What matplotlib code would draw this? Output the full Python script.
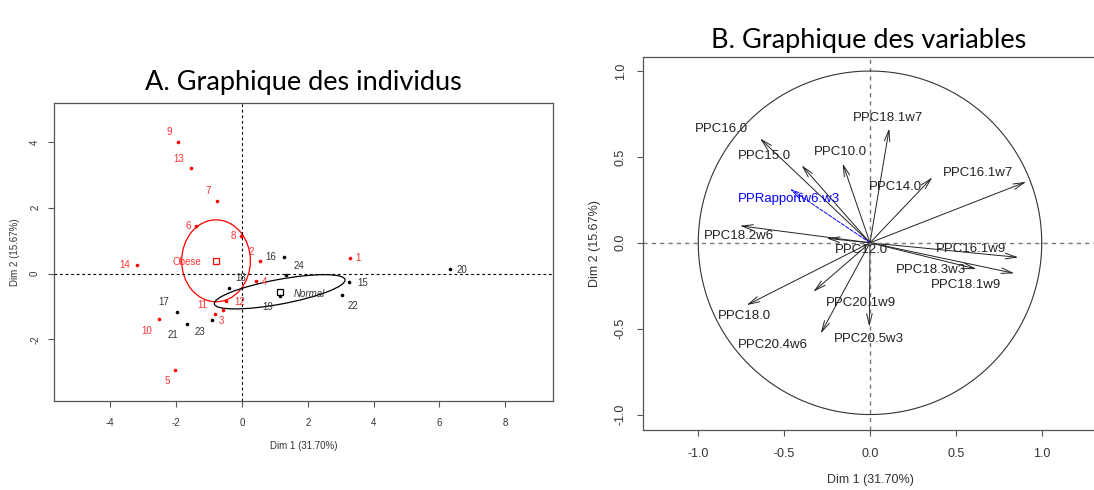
import numpy as np
import matplotlib
matplotlib.use("Agg")
import matplotlib.pyplot as plt
from matplotlib.patches import Ellipse, FancyArrowPatch

plt.rcParams['font.family'] = ['Liberation Sans', 'DejaVu Sans']
plt.rcParams['axes.unicode_minus'] = False

W, H = 1094, 490

# --- A. individus (coordonnees sur Dim 1 / Dim 2)
ind_ids = [str(i) for i in range(1, 25)]
ind_x = [3.28, 0.54, -0.59, 0.43, -2.02, -1.39, -0.77, -0.02, -1.94, -2.51, -0.82, -0.47,
         -1.55, -3.20, 3.26, 1.28, -1.97, -0.40, 1.15, 6.33, -1.68, 3.04, -0.90, 1.35]
ind_y = [0.47, 0.38, -1.09, -0.22, -2.94, 1.46, 2.21, 1.13, 4.01, -1.39, -1.23, -0.82,
         3.20, 0.27, -0.26, 0.50, -1.18, -0.43, -0.68, 0.15, -1.52, -0.64, -1.42, -0.04]
ind_group = ["Obese"] * 14 + ["Normal"] * 10
groups = ["Obese", "Normal"]

# --- B. variables
var_names = ["PPC16.0", "PPC15.0", "PPC10.0", "PPC18.1w7", "PPC14.0", "PPC16.1w7",
             "PPRapportw6.w3", "PPC18.2w6", "PPC12.0", "PPC16.1w9", "PPC18.3w3", "PPC18.1w9",
             "PPC18.0", "PPC20.1w9", "PPC20.4w6", "PPC20.5w3"]
var_x = [-0.641, -0.398, -0.159, 0.112, 0.363, 0.909, -0.466, -0.757, -0.252, 0.864,
         0.621, 0.840, -0.718, -0.330, -0.287, -0.004]
var_y = [0.608, 0.451, 0.462, 0.666, 0.381, 0.355, 0.314, 0.099, 0.026, -0.085,
         -0.153, -0.178, -0.363, -0.285, -0.528, -0.489]
var_suppl = ["PPRapportw6.w3"]

# label placement (pixels, right / down)
ind_lab_off = [(8, 0), (-8, -9), (-1, 11), (8, 1), (-8, 11), (-8, 0), (-8, -10), (-8, 0),
               (-9, -10), (-13, 12), (-13, -9), (13, 1), (-12, -9), (-12, 0), (13, 1),
               (-13, 0), (-13, -10), (12, -10), (-12, 11), (12, 1), (-14, 11), (11, 11),
               (-12, 12), (13, -9)]
var_lab_off = [(-38, -9), (-37, -9), (-2, -11), (-1, -10), (-37, 10), (-48, -9), (-1, 10),
               (-1, 10), (35, 12), (-47, -8), (-46, 1), (-48, 12), (-2, 11), (48, 11),
               (-48, 12), (0, 12)]

grp_col = {"Obese": "#ff0000", "Normal": "#000000"}
lab_col = {"Obese": "#ff3030", "Normal": "#333333"}

fig = plt.figure(figsize=(W / 100, H / 100), dpi=100)


def r_style(ax, fs):
    for s in ax.spines.values():
        s.set_color("#555555")
        s.set_linewidth(0.9)
    ax.tick_params(direction="out", length=4, width=0.8, color="#555555",
                   labelsize=fs, labelcolor="#333333")
    for lab in ax.get_yticklabels():
        lab.set_rotation(90)
        lab.set_va("center")


# ---------------- panel A
axA = fig.add_axes([54 / W, 1 - 401.4 / H, 499 / W, 298.4 / H])
axA.set_xlim(-5.71, 9.45)
axA.set_ylim(-3.88, 5.18)
axA.axhline(0, color="black", lw=0.8, ls=(0, (2.5, 2.5)))
axA.axvline(0, color="black", lw=0.8, ls=(0, (2.5, 2.5)))

xs = np.array(ind_x)
ys = np.array(ind_y)
gs = np.array(ind_group)
for g in groups:
    m = gs == g
    axA.plot(xs[m], ys[m], "o", ms=2.6, color=grp_col[g], mec="none")
    pts = np.column_stack([xs[m], ys[m]])
    mu = pts.mean(axis=0)
    cov = np.cov(pts.T) / m.sum()
    vals, vecs = np.linalg.eigh(cov)
    ang = np.degrees(np.arctan2(vecs[1, 1], vecs[0, 1]))
    chi2 = 5.991
    axA.add_patch(Ellipse(mu, 2 * np.sqrt(chi2 * vals[1]), 2 * np.sqrt(chi2 * vals[0]),
                          angle=ang, fill=False, ec=grp_col[g], lw=0.9))
    axA.plot(mu[0], mu[1], "s", ms=5, mfc="none", mec=grp_col[g], mew=0.9)
    if g == "Obese":
        axA.annotate(g, mu, xytext=(-29, -1), textcoords="offset pixels",
                     ha="center", va="center", fontsize=7, color=lab_col[g])
    else:
        axA.annotate(g, mu, xytext=(30, -2), textcoords="offset pixels",
                     ha="center", va="center", fontsize=7, color=lab_col[g], style="italic")

for i, lab in enumerate(ind_ids):
    dx, dy = ind_lab_off[i]
    axA.annotate(lab, (ind_x[i], ind_y[i]), xytext=(dx, -dy), textcoords="offset pixels",
                 ha="center", va="center", fontsize=7, color=lab_col[ind_group[i]])

axA.set_xticks([-4, -2, 0, 2, 4, 6, 8])
axA.set_yticks([-2, 0, 2, 4])
r_style(axA, 7)
axA.tick_params(axis="x", pad=8)
axA.tick_params(axis="y", pad=6)
fig.text(303.5 / W, 1 - 446 / H, "Dim 1 (31.70%)", ha="center", va="center",
         fontsize=7, color="#333333")
fig.text(15 / W, 1 - 252 / H, "Dim 2 (15.67%)", ha="center", va="center",
         rotation=90, fontsize=7, color="#333333")
fig.text(303 / W, 1 - 90 / H, "A. Graphique des individus", ha="center", va="baseline",
         fontsize=19.5, family=["Lato", "DejaVu Sans"])

# ---------------- panel B
axB = fig.add_axes([643.3 / W, 1 - 430 / H, 453.4 / W, 372.7 / H])
axB.set_xlim(-1.32, 1.32)
axB.set_ylim(-1.09, 1.08)
axB.axhline(0, color="#777777", lw=1.0, ls=(0, (3, 3)))
axB.axvline(0, color="#777777", lw=1.0, ls=(0, (3, 3)))
t = np.linspace(0, 2 * np.pi, 400)
axB.plot(np.cos(t), np.sin(t), color="#333333", lw=0.8)

for i, name in enumerate(var_names):
    sup = name in var_suppl
    col = "#0000ff" if sup else "#222222"
    arr = FancyArrowPatch((0, 0), (var_x[i], var_y[i]),
                          arrowstyle="->,head_length=0.8,head_width=0.2",
                          mutation_scale=10, lw=0.7, color=col,
                          ls="--" if sup else "-", shrinkA=0, shrinkB=0)
    axB.add_patch(arr)
    dx, dy = var_lab_off[i]
    axB.annotate(name, (var_x[i], var_y[i]), xytext=(dx, -dy), textcoords="offset pixels",
                 ha="center", va="center", fontsize=9.5, color=col)

axB.set_xticks([-1, -0.5, 0, 0.5, 1])
axB.set_xticklabels(["-1.0", "-0.5", "0.0", "0.5", "1.0"])
axB.set_yticks([-1, -0.5, 0, 0.5, 1])
axB.set_yticklabels(["-1.0", "-0.5", "0.0", "0.5", "1.0"])
r_style(axB, 9)
axB.tick_params(axis="x", pad=9)
axB.tick_params(axis="y", pad=8)
fig.text(870 / W, 1 - 480 / H, "Dim 1 (31.70%)", ha="center", va="center",
         fontsize=9, color="#333333")
fig.text(595 / W, 1 - 243.7 / H, "Dim 2 (15.67%)", ha="center", va="center",
         rotation=90, fontsize=9, color="#333333")
fig.text(869 / W, 1 - 48 / H, "B. Graphique des variables", ha="center", va="baseline",
         fontsize=19.5, family=["Lato", "DejaVu Sans"])

fig.savefig("out.png", dpi=100)
